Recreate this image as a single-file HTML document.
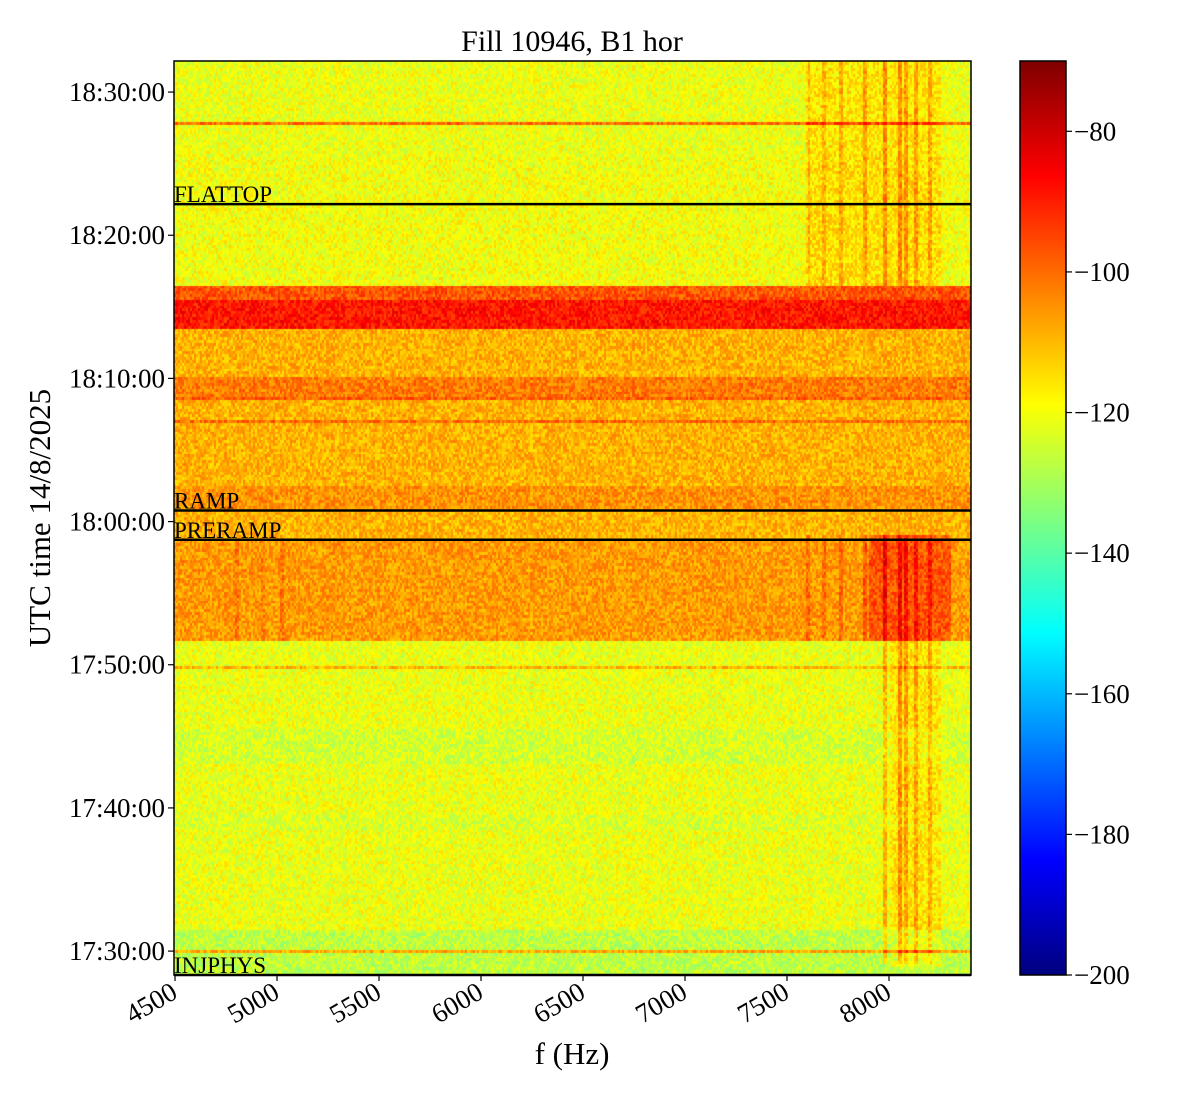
<!DOCTYPE html>
<html><head><meta charset="utf-8"><style>
body{margin:0;background:#fff;width:1200px;height:1100px;overflow:hidden;font-family:"Liberation Serif",serif;}
#wrap{position:relative;width:1200px;height:1100px;}
canvas{position:absolute;}
</style></head><body>
<div id="wrap">
<canvas id="hm" width="797" height="914" style="left:174px;top:61px"></canvas>
<canvas id="cb" width="46" height="914" style="left:1020px;top:61px"></canvas>
<svg id="ov" width="1200" height="1100" style="position:absolute;left:0;top:0"></svg>
</div>
<script>
// ---- data ----
const bandStart = [28.33, 31.5, 38.5, 39.5, 43.0, 45.5, 51.7, 58.73, 60.77, 62.5, 68.5, 70.0, 73.5, 75.5, 76.4, 85.5, 92.17];
const bandLevel = [-127, -121, -123, -121, -124, -121, -106, -109, -105, -109, -102, -109, -89, -97, -120, -121];
const lineTimes = [30.0, 49.8, 67.0, 68.5, 75.4, 87.8];
const lineLevels = [-108, -110, -100, -98, -92, -100];
const hotFreqLo = [7900, 8000, 7600];
const hotFreqHi = [8300, 8250, 8250];
const hotTimeLo = [51.7, 28.8, 76.4];
const hotTimeHi = [59.0, 51.7, 92.17];
const hotBoost = [9, 5, 5];
const vLineFreqs = [4800, 4930, 5020, 7600, 7680, 7760, 7880, 7980, 8050, 8080, 8130, 8200];
const vLineBoost = [5, 4, 5, 6, 6, 7, 9, 12, 12, 10, 9, 8];
const markerNames = ["FLATTOP", "RAMP", "PRERAMP", "INJPHYS"];
const markerTimes = [82.17, 60.77, 58.73, 28.33];
const xTicks = [4500, 5000, 5500, 6000, 6500, 7000, 7500, 8000];
const yTicks = [30, 40, 50, 60, 70, 80, 90];
const yTickLabels = ["17:30:00", "17:40:00", "17:50:00", "18:00:00", "18:10:00", "18:20:00", "18:30:00"];
const cTicks = [-80, -100, -120, -140, -160, -180, -200];

// ---- axes ----
const PX0 = 174, PX1 = 971, PY0 = 61, PY1 = 975;
const fMin = 4495, fMax = 8402, tMin = 28.33, tMax = 92.17, cMin = -200, cMax = -70;
const xOf = f => PX0 + (f - fMin) / (fMax - fMin) * (PX1 - PX0);
const yOf = t => PY1 - (t - tMin) / (tMax - tMin) * (PY1 - PY0);
const cy = v => PY1 - (v - cMin) / (cMax - cMin) * (PY1 - PY0);

function jet(v) {
  const x = Math.max(0, Math.min(1, v));
  const c = a => Math.round(255 * Math.max(0, Math.min(1, a)));
  return [c(1.5 - Math.abs(4 * x - 3)), c(1.5 - Math.abs(4 * x - 2)), c(1.5 - Math.abs(4 * x - 1))];
}
function levelAt(f, t) {
  let L = bandLevel[bandLevel.length - 1];
  for (let i = 0; i < bandLevel.length; i++) if (t >= bandStart[i] && t < bandStart[i + 1]) { L = bandLevel[i]; break; }
  for (let i = 0; i < lineTimes.length; i++) if (Math.abs(t - lineTimes[i]) < 0.12) L = Math.max(L, lineLevels[i]);
  for (let i = 0; i < hotBoost.length; i++)
    if (f >= hotFreqLo[i] && f <= hotFreqHi[i] && t >= hotTimeLo[i] && t <= hotTimeHi[i]) L += hotBoost[i];
  for (let i = 0; i < vLineFreqs.length; i++) {
    if (Math.abs(f - vLineFreqs[i]) >= 8) continue;
    const lowF = vLineFreqs[i] < 6000;
    if ((t > 51.7 && t < 59) || (!lowF && t > 76.4) || (vLineFreqs[i] > 7900 && t < 51.7 && t > 29)) L += vLineBoost[i];
  }
  return L;
}
// heatmap
const hm = document.getElementById('hm'), hc = hm.getContext('2d');
const df = 10, dt = 0.2;
for (let f = fMin; f < fMax; f += df) {
  for (let t = tMin; t < tMax; t += dt) {
    const i = Math.round((f - fMin) / df), j = Math.round((t - tMin) / dt);
    const h = ((i * 73856093) ^ (j * 19349663)) >>> 0;
    const tex = ((h % 1000) / 1000 - 0.5) * 13;
    const v = levelAt(f, t) + tex;
    const [r, g, b] = jet((v - cMin) / (cMax - cMin));
    hc.fillStyle = `rgb(${r},${g},${b})`;
    const x0 = xOf(f) - PX0, x1 = xOf(f + df) - PX0, y0 = yOf(t + dt) - PY0, y1 = yOf(t) - PY0;
    hc.fillRect(Math.floor(x0), Math.floor(y0), Math.ceil(x1 - x0) + 1, Math.ceil(y1 - y0) + 1);
  }
}
// colorbar
const cb = document.getElementById('cb'), cc = cb.getContext('2d');
for (let y = 0; y < 914; y++) {
  const [r, g, b] = jet(1 - y / 913);
  cc.fillStyle = `rgb(${r},${g},${b})`; cc.fillRect(0, y, 46, 1);
}
// overlay
const NS = 'http://www.w3.org/2000/svg', ov = document.getElementById('ov');
function el(tag, attrs, text) {
  const e = document.createElementNS(NS, tag);
  for (const k in attrs) e.setAttribute(k, attrs[k]);
  if (text !== undefined) e.textContent = text;
  ov.appendChild(e); return e;
}
const ff = '"Liberation Serif", serif';
for (let i = 0; i < markerNames.length; i++) {
  const y = yOf(markerTimes[i]);
  const ln = el('line', {x1: PX0, x2: PX1, y1: y, y2: y, stroke: '#000', 'stroke-width': 2.5});
  
  
  const tx = el('text', {x: PX0, y: y - 2, 'font-family': ff, 'font-size': 23}, markerNames[i]);
  
  
}
const fr = el('rect', {x: PX0, y: PY0, width: PX1 - PX0, height: PY1 - PY0, fill: 'none', stroke: '#000', 'stroke-width': 1.5});


const cf = el('rect', {x: 1020, y: PY0, width: 46, height: PY1 - PY0, fill: 'none', stroke: '#000', 'stroke-width': 1.5});


xTicks.forEach(f => {
  const x = xOf(f);
  el('line', {x1: x, x2: x, y1: PY1, y2: PY1 + 6, stroke: '#000', 'stroke-width': 1.2});
  const t = el('text', {x: x + 4, y: PY1 + 22, 'font-family': ff, 'font-size': 27, 'text-anchor': 'end', transform: `rotate(-30 ${x + 4} ${PY1 + 22})`}, String(f));
  
  
});
yTicks.forEach((tm, i) => {
  const y = yOf(tm);
  el('line', {x1: PX0 - 6, x2: PX0, y1: y, y2: y, stroke: '#000', 'stroke-width': 1.2});
  const t = el('text', {x: PX0 - 9, y: y + 9, 'font-family': ff, 'font-size': 27, 'text-anchor': 'end'}, yTickLabels[i]);
  
  
});
cTicks.forEach(v => {
  const y = cy(v);
  el('line', {x1: 1066, x2: 1072, y1: y, y2: y, stroke: '#000', 'stroke-width': 1.2});
  const t = el('text', {x: 1074, y: y + 9, 'font-family': ff, 'font-size': 27}, '\u2212' + Math.abs(v));
  
  
});
const ti = el('text', {x: 572, y: 51, 'font-family': ff, 'font-size': 30, 'text-anchor': 'middle'}, 'Fill 10946, B1 hor');


const xl = el('text', {x: 572, y: 1064, 'font-family': ff, 'font-size': 31, 'text-anchor': 'middle'}, 'f (Hz)');


const yl = el('text', {x: 50, y: 518, 'font-family': ff, 'font-size': 31, 'text-anchor': 'middle', transform: 'rotate(-90 50 518)'}, 'UTC time 14/8/2025');


</script>
</body></html>
